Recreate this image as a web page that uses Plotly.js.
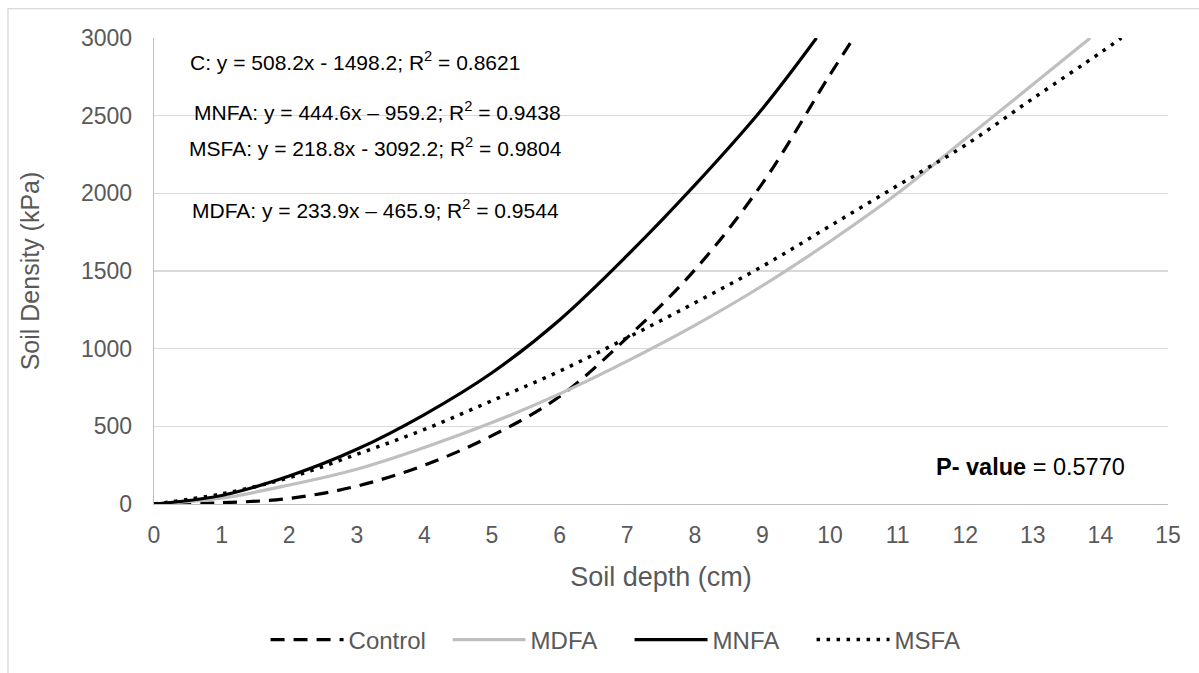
<!DOCTYPE html>
<html>
<head>
<meta charset="utf-8">
<script src="https://cdn.plot.ly/plotly-3.0.1.min.js"></script>
<style>
  html, body { margin: 0; padding: 0; background: #ffffff; }
  #chart { width: 1199px; height: 673px; }
</style>
</head>
<body>
<div id="chart"></div>
<script>
// ---- Data ----
const controlDepth = [0, 1, 2, 3, 4, 5, 6, 7, 8, 9, 10, 10.35];
const controlKpa   = [0, 8, 36, 115, 250, 440, 692, 1071, 1507, 2064, 2764, 3000];

const mdfaDepth = [0, 1, 2, 3, 4, 5, 6, 7, 8, 9, 10, 11, 12, 13, 13.85];
const mdfaKpa   = [0, 38, 122, 224, 364, 524, 709, 920, 1150, 1405, 1690, 2000, 2350, 2700, 3000];

const mnfaDepth = [0, 1, 2, 3, 4, 5, 6, 7, 8, 9, 9.8];
const mnfaKpa   = [0, 55, 180, 352, 576, 845, 1185, 1600, 2053, 2545, 3000];

const msfaDepth = [0, 1, 2, 3, 4, 5, 6, 7, 8, 9, 10, 11, 12, 13, 14, 14.31];
const msfaKpa   = [0, 65, 170, 320, 480, 665, 855, 1070, 1295, 1530, 1790, 2050, 2310, 2610, 2905, 3000];

const seriesNames = ['Control', 'MDFA', 'MNFA', 'MSFA'];

const eqC    = 'C: y = 508.2x - 1498.2; R<sup>2</sup> = 0.8621';
const eqMNFA = 'MNFA: y = 444.6x \u2013 959.2; R<sup>2</sup> = 0.9438';
const eqMSFA = 'MSFA: y = 218.8x - 3092.2; R<sup>2</sup> = 0.9804';
const eqMDFA = 'MDFA: y = 233.9x \u2013 465.9; R<sup>2</sup> = 0.9544';
const pText  = '<b>P- value</b> = 0.5770';

const xTitle = 'Soil depth (cm)';
const yTitle = 'Soil Density (kPa)';

// ---- Styling ----
const FONT = 'Liberation Sans, Arial, sans-serif';
const AXIS_TEXT = '#595959';
const GRID = '#d9d9d9';
const AXISLINE = '#bfbfbf';

const line = (dash, color, width) => ({ color: color, width: width, dash: dash, shape: 'spline', smoothing: 1 });

const traces = [
  { x: controlDepth, y: controlKpa, name: seriesNames[0], mode: 'lines', line: line('14px,9px', '#000000', 3.2) },
  { x: mdfaDepth,    y: mdfaKpa,    name: seriesNames[1], mode: 'lines', line: line('solid', '#bfbfbf', 3.2) },
  { x: mnfaDepth,    y: mnfaKpa,    name: seriesNames[2], mode: 'lines', line: line('solid', '#000000', 3.2) },
  { x: msfaDepth,    y: msfaKpa,    name: seriesNames[3], mode: 'lines', line: line('3.5px,6.5px', '#000000', 3.5) }
];

const annFont = { family: FONT, size: 21, color: '#000000' };

const layout = {
  width: 1199,
  height: 673,
  margin: { l: 154, r: 31, t: 38, b: 168 },
  paper_bgcolor: '#ffffff',
  plot_bgcolor: '#ffffff',
  font: { family: FONT, color: AXIS_TEXT },
  showlegend: true,
  legend: {
    orientation: 'h',
    x: 0.469, xanchor: 'center',
    y: -0.289, yanchor: 'middle',
    font: { family: FONT, size: 24, color: AXIS_TEXT },
    itemwidth: 73,
    entrywidth: 94,
    entrywidthmode: 'pixels',
    bgcolor: 'rgba(0,0,0,0)'
  },
  xaxis: {
    range: [0, 15],
    dtick: 1,
    tick0: 0,
    showgrid: false,
    zeroline: false,
    showline: true,
    linecolor: AXISLINE,
    linewidth: 1.3,
    ticks: '',
    ticklabelstandoff: 10,
    tickfont: { family: FONT, size: 23, color: AXIS_TEXT },
    title: { text: xTitle, font: { family: FONT, size: 27, color: AXIS_TEXT }, standoff: 20 },
    fixedrange: true
  },
  yaxis: {
    range: [0, 3000],
    dtick: 500,
    tick0: 0,
    showgrid: true,
    gridcolor: GRID,
    gridwidth: 1.3,
    zeroline: false,
    showline: true,
    linecolor: AXISLINE,
    linewidth: 1.3,
    ticks: '',
    ticklabelstandoff: 16,
    tickfont: { family: FONT, size: 23, color: AXIS_TEXT },
    title: { text: yTitle, font: { family: FONT, size: 25, color: AXIS_TEXT }, standoff: 34 },
    fixedrange: true
  },
  shapes: [
    // outer chart-area border (left and top edges visible)
    { type: 'path', xref: 'paper', yref: 'paper',
      path: 'M -0.144 -0.5 L -0.144 1.063 L 1.2 1.063',
      line: { color: GRID, width: 1.3 }, layer: 'below' },
    // white text boxes covering gridlines
    { type: 'rect', xref: 'paper', yref: 'y', x0: 0.0158, x1: 0.502, y0: 2380, y1: 2640,
      fillcolor: '#ffffff', line: { width: 0 }, layer: 'between' },
    { type: 'rect', xref: 'paper', yref: 'y', x0: 0.0158, x1: 0.438, y0: 1880, y1: 2120,
      fillcolor: '#ffffff', line: { width: 0 }, layer: 'between' }
  ],
  annotations: [
    { text: eqC,    xref: 'paper', yref: 'y', x: 0.0335, y: 2849, xanchor: 'left', yanchor: 'middle', showarrow: false, font: annFont },
    { text: eqMNFA, xref: 'paper', yref: 'y', x: 0.0375, y: 2527, xanchor: 'left', yanchor: 'middle', showarrow: false, font: annFont },
    { text: eqMSFA, xref: 'paper', yref: 'y', x: 0.033,  y: 2296, xanchor: 'left', yanchor: 'middle', showarrow: false, font: annFont },
    { text: eqMDFA, xref: 'paper', yref: 'y', x: 0.0355, y: 1898, xanchor: 'left', yanchor: 'middle', showarrow: false, font: annFont },
    { text: pText,  xref: 'x', yref: 'y', x: 12.97, y: 238, xanchor: 'center', yanchor: 'middle', showarrow: false,
      font: { family: FONT, size: 23.5, color: '#000000' } }
  ]
};

Plotly.newPlot('chart', traces, layout, { displayModeBar: false, staticPlot: true });
</script>
</body>
</html>
